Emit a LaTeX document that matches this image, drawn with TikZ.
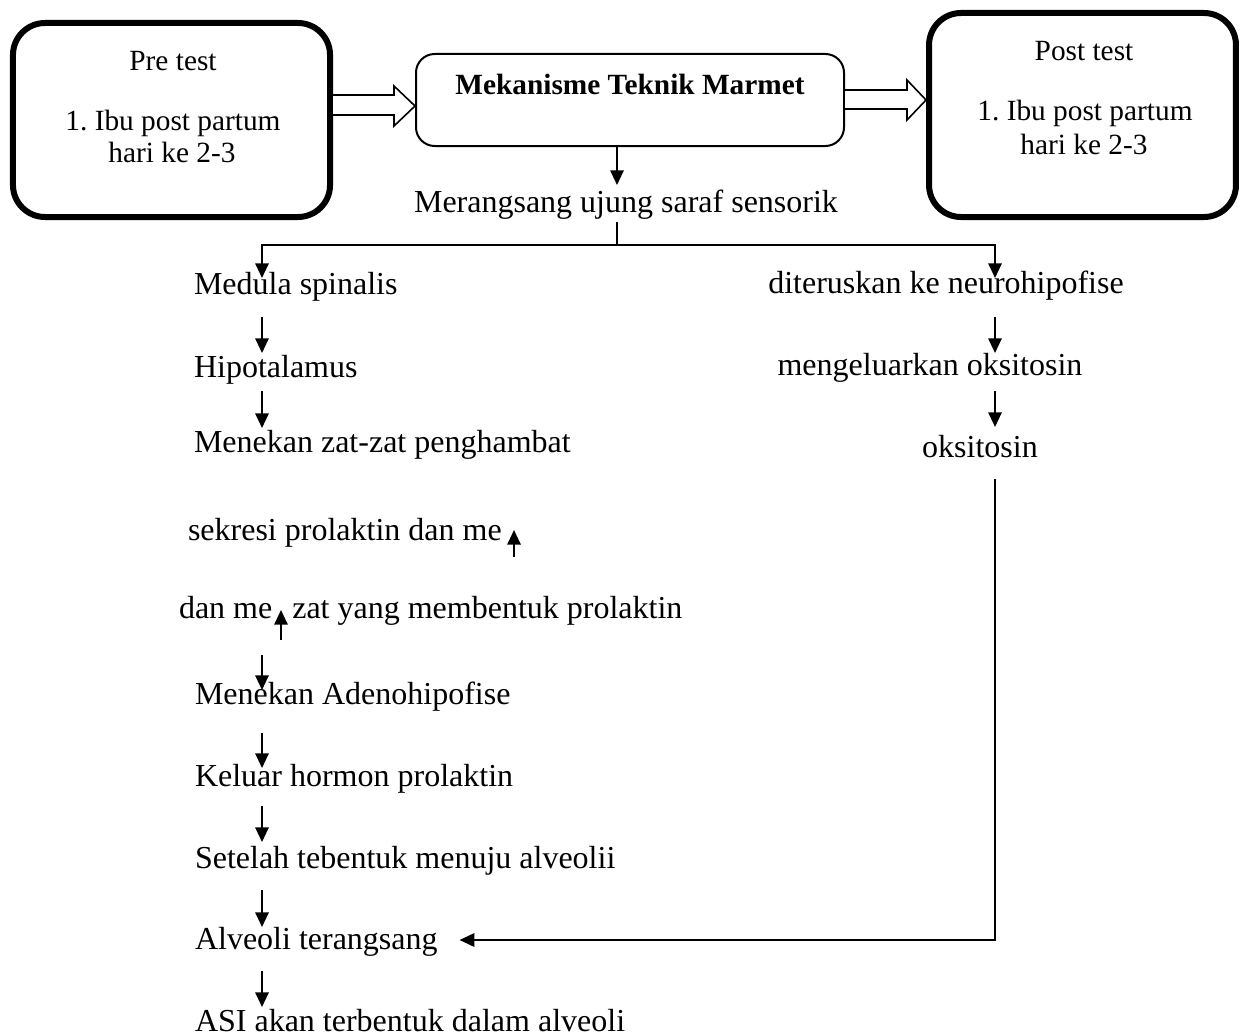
\documentclass[tikz,border=0pt]{standalone}
\usepackage{fontspec}
\setmainfont{Liberation Serif}
\usetikzlibrary{arrows.meta,calc}

\tikzset{
  txt/.style={inner sep=0pt, anchor=base west, font=\fontsize{12}{14}\selectfont},
  mtxt/.style={inner sep=0pt, anchor=base, font=\fontsize{12}{14}\selectfont},
  btxt/.style={inner sep=0pt, anchor=base, font=\fontsize{11}{13}\selectfont},
  testbox/.style={draw, line width=2.25pt, rounded corners=12pt},
  mekbox/.style={draw, line width=0.75pt, rounded corners=7pt, minimum width=160.5pt, minimum height=34.5pt},
  hollow/.style={draw, fill=white, line width=0.6pt},
}

\begin{document}
\begin{tikzpicture}[x=0.375pt, y=-0.375pt, line width=0.75pt, >={Triangle[length=5.5pt,width=5pt]}]
    \useasboundingbox (0,0) rectangle (1243,1034);
    % Top boxes
    \node[testbox, minimum width=118.9pt, minimum height=72.75pt] (pre) at (171.5,120) {};
    \node[testbox, minimum width=115.1pt, minimum height=76.5pt] (post) at (1082.5,115) {};
    \node[mekbox] (mek) at (630,100) {};
    \node[btxt] (pre1) at (173,71) {Pre test};
    \node[btxt] (pre2) at (173,130) {1.\ Ibu post partum};
    \node[btxt] (pre3) at (172,163) {hari ke 2-3};
    \node[btxt] (post1) at (1084,61) {Post test};
    \node[btxt] (post2) at (1085,121) {1.\ Ibu post partum};
    \node[btxt] (post3) at (1084,154) {hari ke 2-3};
    \node[btxt] (mek1) at (630,95) {\bfseries Mekanisme Teknik Marmet};
    % Hollow arrows
    \draw[hollow] (pre.east |- 0,95) -- (394,95) -- (394,86) -- (mek.west |- 0,106)
        -- (394,126) -- (394,115) -- (pre.east |- 0,115);
    \draw[hollow] (mek.east |- 0,90) -- (907,90) -- (907,80) -- (post.west |- 0,100)
        -- (907,120) -- (907,109) -- (mek.east |- 0,109);
    % Sensory branch
    \coordinate (br) at (617,245);
    \coordinate (ax) at (262,0);
    \coordinate (bx) at (995,0);
    \node[mtxt] (mer) at (626,212) {Merangsang ujung saraf sensorik};
    % Left chain
    \node[txt] (med) at (193,294) {Medula spinalis};
    \node[txt] (hip) at (193,377) {Hipotalamus};
    \node[txt] (zat) at (193,452) {Menekan zat-zat penghambat};
    \node[txt] (sek) at (187,540) {sekresi prolaktin dan me};
    \node[txt] (dan) at (178,618) {dan me\hspace{7.5pt}zat yang membentuk prolaktin};
    \node[txt] (ade) at (194,704) {Menekan Adenohipofise};
    \node[txt] (kel) at (194,786) {Keluar hormon prolaktin};
    \node[txt] (set) at (194,868) {Setelah tebentuk menuju alveolii};
    \node[txt] (alv) at (194,949) {Alveoli terangsang};
    \node[txt] (asi) at (194,1031) {ASI akan terbentuk dalam alveoli};
    % Right chain
    \node[mtxt] (dit) at (946,293) {diteruskan ke neurohipofise};
    \node[mtxt] (klo) at (930,375) {mengeluarkan oksitosin};
    \node[mtxt] (oks) at (980,457) {oksitosin};
    % Arrows
    \draw[->] (mek.south -| br) -- ($(mer.base -| br)+(0,-27)$);
    \draw ($(mer.base -| br)+(0,10)$) -- (br);
    \draw[->] (br) -| ($(med.base -| ax)+(0,-16)$);
    \draw[->] (br) -| ($(dit.base -| bx)+(0,-15)$);
    \draw[->] ($(med.base -| ax)+(0,23)$) -- ($(hip.base -| ax)+(0,-24)$);
    \draw[->] ($(hip.base -| ax)+(0,14)$) -- ($(zat.base -| ax)+(0,-24)$);
    \draw[->] ($(sek.base west)+(327,17)$) -- ++(0,-27);
    \draw[->] ($(dan.base west)+(103,22)$) -- ++(0,-30);
    \draw[->] ($(dan.base -| ax)+(0,37)$) -- ($(ade.base -| ax)+(0,-14)$);
    \draw[->] ($(ade.base -| ax)+(0,29)$) -- ($(kel.base -| ax)+(0,-18)$);
    \draw[->] ($(kel.base -| ax)+(0,20)$) -- ($(set.base -| ax)+(0,-26)$);
    \draw[->] ($(set.base -| ax)+(0,22)$) -- ($(alv.base -| ax)+(0,-22)$);
    \draw[->] ($(alv.base -| ax)+(0,22)$) -- ($(asi.base -| ax)+(0,-24)$);
    \draw[->] ($(dit.base -| bx)+(0,24)$) -- ($(klo.base -| bx)+(0,-22)$);
    \draw[->] ($(klo.base -| bx)+(0,16)$) -- ($(oks.base -| bx)+(0,-30)$);
    \draw[->] ($(oks.base -| bx)+(0,22)$) |- ($(alv.base east)+(21,-9)$);
\end{tikzpicture}
\end{document}
